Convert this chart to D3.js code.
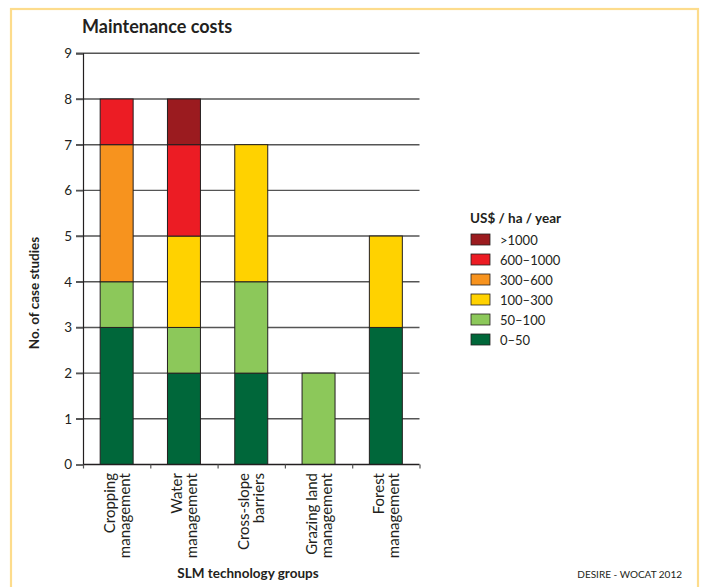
<!DOCTYPE html>
<html><head><meta charset="utf-8">
<script src="https://cdn.jsdelivr.net/npm/d3@7"></script>
<style>body{margin:0;background:#fff}svg{display:block}text{font-family:Lato,"Open Sans",sans-serif;fill:#231f20}</style>
</head><body><div id="c"></div>
<script>
const categories = [["Cropping","management"],["Water","management"],["Cross-slope","barriers"],["Grazing land","management"],["Forest","management"]];
const seriesNames = ["0–50","50–100","100–300","300–600","600–1000",">1000"];
const seriesColors = ["#00673a","#8cc85a","#ffd200","#f7931e","#ec1c24","#9b1b1f"];
const v0_50     = [3,2,2,0,3];
const v50_100   = [1,1,2,2,0];
const v100_300  = [0,2,3,0,2];
const v300_600  = [3,0,0,0,0];
const v600_1000 = [1,2,0,0,0];
const vOver1000 = [0,1,0,0,0];
const yTicks = [0,1,2,3,4,5,6,7,8,9];

const seriesValues = [v0_50,v50_100,v100_300,v300_600,v600_1000,vOver1000];
const rows = categories.map((c,i)=>{const r={cat:i};seriesNames.forEach((s,k)=>r[s]=seriesValues[k][i]);return r;});

const W=701,H=587;
const svg=d3.select("#c").append("svg").attr("width",W).attr("height",H);
svg.append("rect").attr("x",11).attr("y",9).attr("width",687).attr("height",H+10)
  .attr("fill","none").attr("stroke","#fddc8c").attr("stroke-width",2.2);

const x0=83,x1=419.5,yTop=53.3,yBot=464.5;
const x=d3.scaleBand().domain(d3.range(categories.length)).range([x0,x1]).paddingInner(0.51).paddingOuter(0.255);
const y=d3.scaleLinear().domain([0,9]).range([yBot,yTop]);

// gridlines
svg.append("g").selectAll("line").data(yTicks.filter(d=>d>0)).join("line")
  .attr("x1",76).attr("x2",x1).attr("y1",d=>y(d)).attr("y2",d=>y(d))
  .attr("stroke","#555").attr("stroke-width",1.4);

// y axis
const ya=svg.append("g").attr("transform",`translate(${x0},0)`).call(d3.axisLeft(y).tickValues(yTicks).tickSize(7).tickPadding(4));
ya.select(".domain").attr("stroke","#231f20").attr("stroke-width",1.2);
ya.selectAll(".tick line").attr("stroke","#555").attr("stroke-width",1.4);
ya.selectAll("text").attr("font-size",13.5).attr("fill","#231f20").style("font-family","Lato, sans-serif");

// bars
const stack=d3.stack().keys(seriesNames)(rows);
svg.append("g").selectAll("g").data(stack).join("g").attr("fill",(d,i)=>seriesColors[i])
  .selectAll("rect").data(d=>d.filter(p=>p[1]-p[0]>0)).join("rect")
  .attr("x",d=>x(d.data.cat)).attr("width",x.bandwidth())
  .attr("y",d=>y(d[1])).attr("height",d=>y(d[0])-y(d[1]))
  .attr("stroke","#231f20").attr("stroke-width",1);

// x axis
const xb=d3.scaleLinear().domain([0,categories.length]).range([x0,x1]);
const xa=svg.append("g").attr("transform",`translate(0,${yBot})`)
  .call(d3.axisBottom(xb).tickValues(d3.range(categories.length+1)).tickSize(4).tickFormat(""));
xa.select(".domain").attr("stroke","#231f20").attr("stroke-width",1.6).attr("d",`M${x0},0H${x1}`);
xa.selectAll(".tick line").attr("stroke","#555").attr("stroke-width",1.2);

// category labels
const cl=svg.append("g");
categories.forEach((lines,i)=>{
  const cx=x(i)+x.bandwidth()/2;
  const t=cl.append("text").attr("transform",`translate(${cx},473) rotate(-90)`)
    .attr("text-anchor","end").attr("font-size",15);
  lines.forEach((ln,k)=>t.append("tspan").attr("x",0).attr("y",(k===0?-7.5:7.5)+5.5).text(ln));
});

// titles
svg.append("text").attr("x",82).attr("y",33).attr("font-size",18).attr("font-weight","bold").text("Maintenance costs");
svg.append("text").attr("transform","translate(39,293) rotate(-90)").attr("text-anchor","middle")
  .attr("font-size",13.5).attr("font-weight","bold").text("No. of case studies");
svg.append("text").attr("x",248).attr("y",578).attr("text-anchor","middle")
  .attr("font-size",13.5).attr("font-weight","bold").text("SLM technology groups");
svg.append("text").attr("x",682).attr("y",578).attr("text-anchor","end")
  .attr("font-size",10).text("DESIRE - WOCAT 2012");

// legend
const lg=svg.append("g").attr("transform","translate(470,0)");
lg.append("text").attr("x",0).attr("y",223).attr("font-size",13.5).attr("font-weight","bold").text("US$ / ha / year");
const order=d3.range(seriesNames.length).reverse();
order.forEach((k,j)=>{
  const yy=234+j*20;
  lg.append("rect").attr("x",1).attr("y",yy).attr("width",19).attr("height",11)
    .attr("fill",seriesColors[k]).attr("stroke","#231f20").attr("stroke-width",0.8);
  lg.append("text").attr("x",30).attr("y",yy+10.5).attr("font-size",13).text(seriesNames[k]);
});
</script></body></html>
